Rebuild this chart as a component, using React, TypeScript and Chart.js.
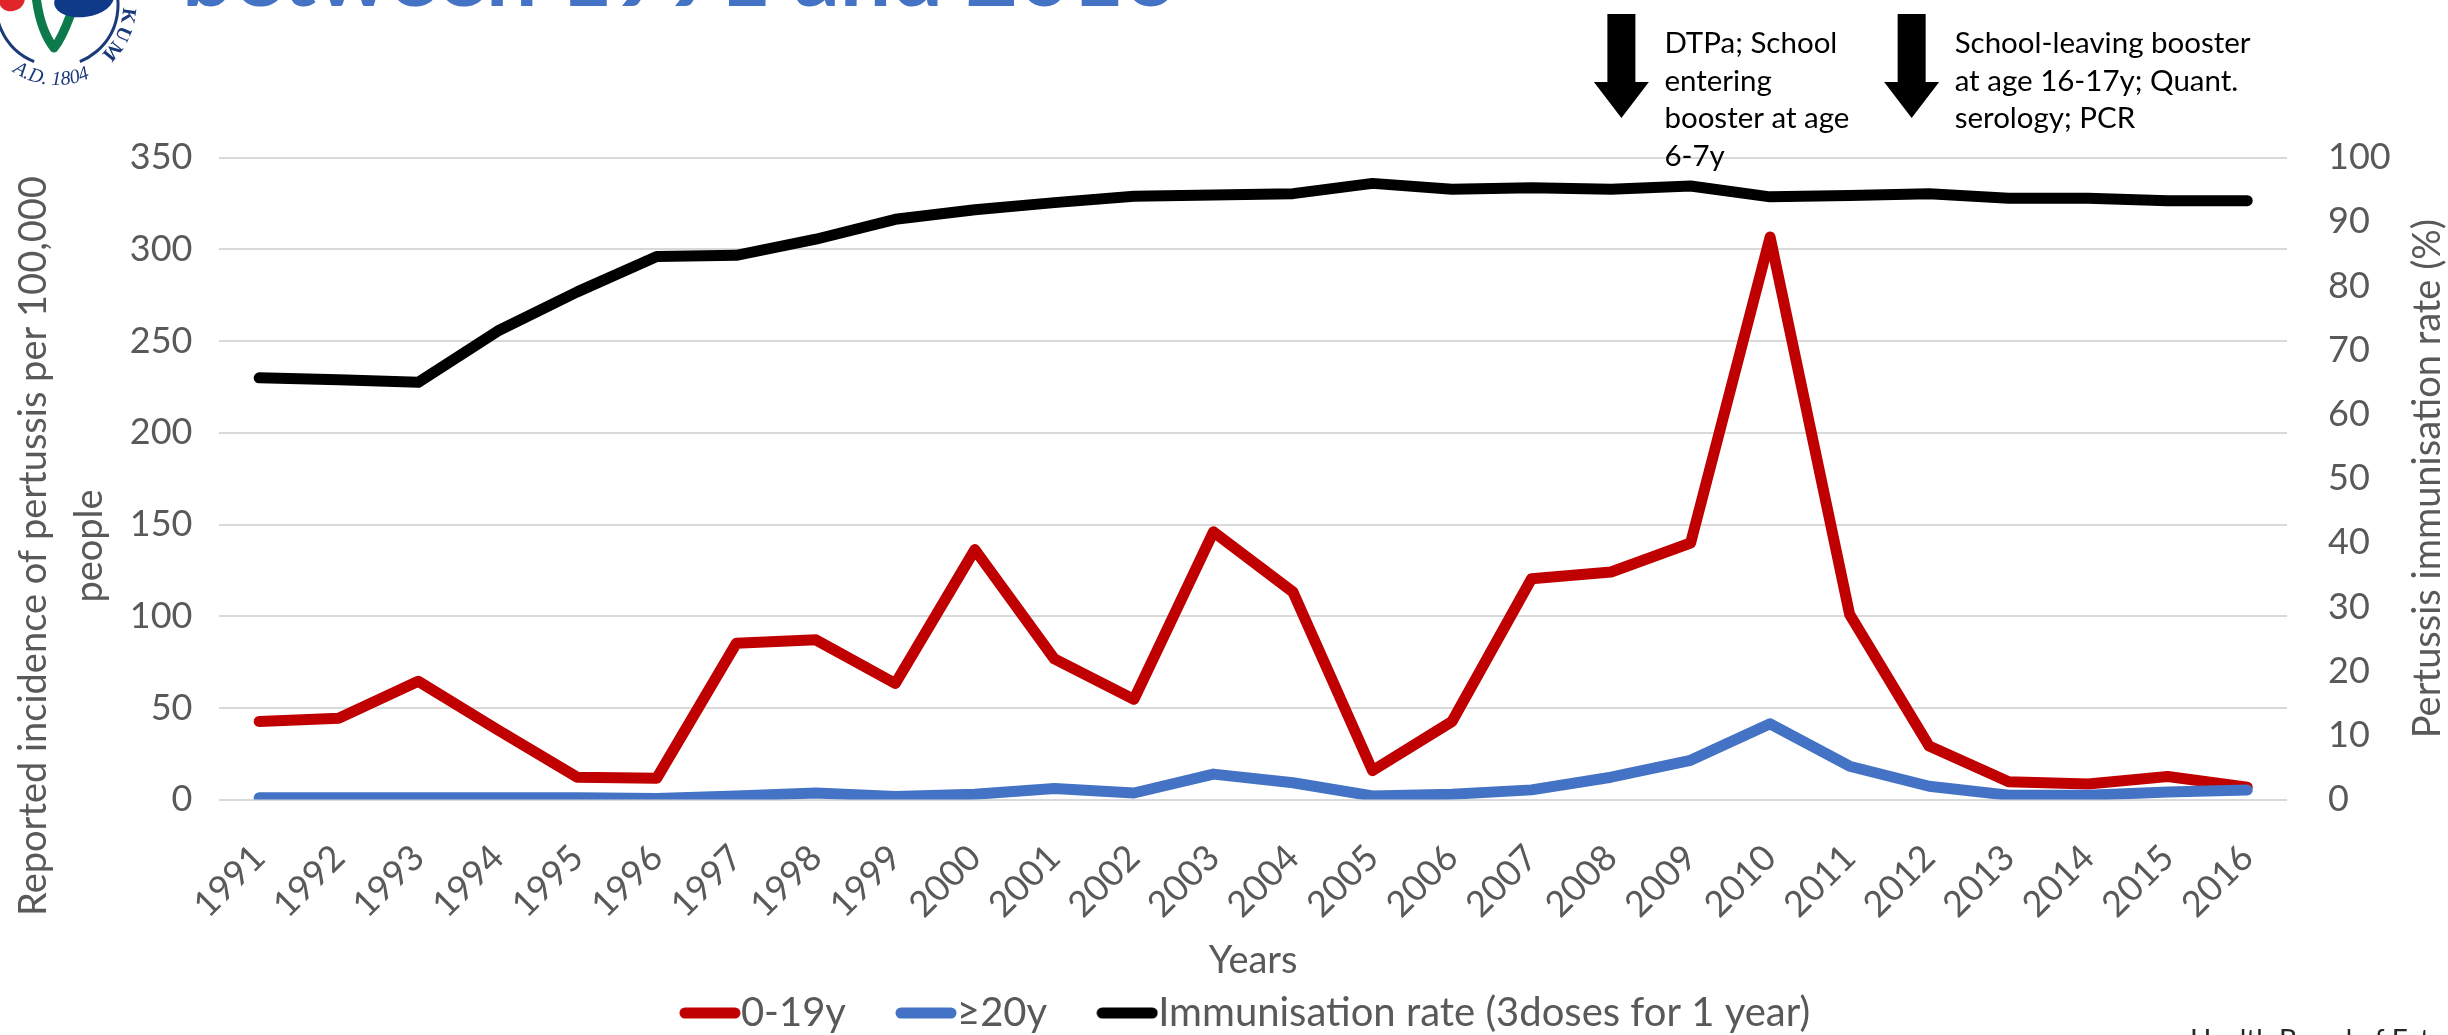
import React, { useEffect, useRef } from "react";
import { Chart, registerables } from "chart.js";

Chart.register(...registerables);

// ---- data -------------------------------------------------------------
const years = [
  "1991", "1992", "1993", "1994", "1995", "1996", "1997", "1998", "1999", "2000",
  "2001", "2002", "2003", "2004", "2005", "2006", "2007", "2008", "2009", "2010",
  "2011", "2012", "2013", "2014", "2015", "2016",
];

// reported incidence per 100,000 people
const incidence0to19 = [
  42.6, 44.3, 64.5, 38.0, 12.2, 11.7, 85.2, 87.1, 63.3, 136.3,
  76.7, 54.7, 146.0, 113.2, 15.8, 42.6, 120.4, 124.1, 139.9, 306.7,
  101.0, 29.2, 9.7, 8.5, 12.6, 6.8,
];
const incidence20plus = [
  1.0, 1.0, 1.0, 1.0, 1.0, 0.6, 2.0, 3.6, 1.7, 2.9,
  6.1, 3.6, 13.9, 9.2, 2.0, 2.9, 5.3, 12.2, 21.4, 41.3,
  18.2, 7.3, 2.4, 2.4, 4.1, 5.3,
];
// immunisation coverage, %
const immunisationRate = [
  65.7, 65.4, 65.0, 73.0, 79.1, 84.6, 84.8, 87.3, 90.4, 91.9,
  93.0, 94.0, 94.2, 94.4, 96.0, 95.1, 95.3, 95.1, 95.6, 93.9,
  94.1, 94.4, 93.7, 93.7, 93.3, 93.3,
];

const seriesLabels = ["0-19y", "≥20y", "Immunisation rate (3doses for 1 year)"];
const seriesColors = ["#C00000", "#4472C4", "#000000"];

const leftAxisRange = { min: 0, max: 350, step: 50 };
const rightAxisRange = { min: 0, max: 100, step: 10 };

const leftAxisTitle = ["Reported incidence of pertussis per 100,000", "people"];
const rightAxisTitle = "Pertussis immunisation rate (%)";
const xAxisTitle = "Years";
const slideTitle = "between 1991 and 2016";
const sourceNote = "Health Board of Estonia";

// schedule changes marked above the plot (year + fraction of a category step)
const milestones = [
  { year: "2008", shift: 0.13, lines: ["DTPa; School", "entering", "booster at age", "6-7y"] },
  { year: "2012", shift: -0.22, lines: ["School-leaving booster", "at age 16-17y; Quant.", "serology; PCR"] },
];

// ---- layout -----------------------------------------------------------
const FONT = "Lato, 'Open Sans', 'DejaVu Sans', sans-serif";
const GREY = "#595959";
const CANVAS_W = 2448;
const CANVAS_H = 1043;
const PLOT_TOP = 157.7;
const PLOT_BOTTOM = 799.6;
const PLOT_LEFT = 219.4;
const PLOT_RIGHT = 2287;
const PAD_LEFT = 61;
const LINE_W = 11;
const LEGEND_FONT = 40;
const LEGEND_GAP = 69;
const TITLE_FONT = 38;

const deg = (d: number) => (d * Math.PI) / 180;

// rounded line swatch used as the legend marker
function makeSwatch(color: string) {
  const c = document.createElement("canvas");
  c.width = 62;
  c.height = 12;
  const g = c.getContext("2d")!;
  g.strokeStyle = color;
  g.lineWidth = LINE_W;
  g.lineCap = "round";
  g.beginPath();
  g.moveTo(6, 6);
  g.lineTo(56, 6);
  g.stroke();
  return c;
}

function drawLogo(ctx: CanvasRenderingContext2D) {
  const navy = "#1b3a7a";
  ctx.save();
  // outer ring
  ctx.strokeStyle = navy;
  ctx.lineWidth = 3;
  ctx.beginPath();
  ctx.arc(57, 5, 61, deg(112), deg(200));
  ctx.stroke();
  ctx.beginPath();
  ctx.arc(57, 5, 61, deg(-40), deg(68));
  ctx.stroke();
  // red flame
  ctx.fillStyle = "#e0262b";
  ctx.beginPath();
  ctx.ellipse(12, 0, 13, 11, deg(-20), 0, Math.PI * 2);
  ctx.fill();
  // green leaf
  ctx.strokeStyle = "#0c7a4b";
  ctx.lineWidth = 9;
  ctx.lineJoin = "round";
  ctx.lineCap = "round";
  ctx.beginPath();
  ctx.moveTo(36, -4);
  ctx.quadraticCurveTo(40, 30, 54, 48);
  ctx.quadraticCurveTo(62, 38, 70, 16);
  ctx.stroke();
  // navy wing
  ctx.fillStyle = "#0f3a8a";
  ctx.beginPath();
  ctx.ellipse(84, 0, 30, 17, deg(-8), 0, Math.PI * 2);
  ctx.fill();
  // lettering round the seal
  ctx.fillStyle = navy;
  ctx.font = "italic 20px 'Liberation Serif', 'DejaVu Serif', serif";
  ctx.textAlign = "center";
  ctx.textBaseline = "alphabetic";
  const bottomText = "A.D. 1804";
  const r = 80;
  let ang = deg(124);
  for (const ch of bottomText) {
    const w = ctx.measureText(ch).width;
    const a = ang - w / 2 / r;
    ctx.save();
    ctx.translate(57 + r * Math.cos(a), 5 + r * Math.sin(a));
    ctx.rotate(a - Math.PI / 2);
    ctx.fillText(ch, 0, 0);
    ctx.restore();
    ang -= w / r;
  }
  ctx.font = "bold 20px 'Liberation Serif', 'DejaVu Serif', serif";
  const sideText = "KUM";
  const r2 = 66;
  let ang2 = deg(2);
  for (const ch of sideText) {
    const w = ctx.measureText(ch).width;
    const a = ang2 + w / 2 / r2;
    ctx.save();
    ctx.translate(57 + r2 * Math.cos(a), 5 + r2 * Math.sin(a));
    ctx.rotate(a + Math.PI / 2);
    ctx.fillText(ch, 0, 0);
    ctx.restore();
    ang2 += (w + 2) / r2;
  }
  ctx.restore();
}

const decorations = {
  id: "slideDecorations",
  afterDraw(chart: any) {
    const { ctx, scales, chartArea } = chart;
    const xScale = scales.x;
    ctx.save();

    // slide heading (only its lower edge shows)
    ctx.fillStyle = "#4472C4";
    let size = 80;
    ctx.font = `bold ${size}px ${FONT}`;
    size = (size * 995) / ctx.measureText(slideTitle).width;
    ctx.font = `bold ${size}px ${FONT}`;
    ctx.textAlign = "left";
    ctx.textBaseline = "alphabetic";
    ctx.fillText(slideTitle, 182, 6);

    drawLogo(ctx);

    // axis titles
    ctx.fillStyle = GREY;
    ctx.font = `${TITLE_FONT}px ${FONT}`;
    ctx.textAlign = "center";
    ctx.textBaseline = "middle";
    const leftX = [34, 90];
    leftAxisTitle.forEach((line, i) => {
      ctx.save();
      ctx.translate(leftX[i], 546);
      ctx.rotate(-Math.PI / 2);
      ctx.fillText(line, 0, 0);
      ctx.restore();
    });
    ctx.save();
    ctx.translate(2428, (chartArea.top + chartArea.bottom) / 2);
    ctx.rotate(-Math.PI / 2);
    ctx.fillText(rightAxisTitle, 0, 0);
    ctx.restore();

    // milestone arrows with notes
    ctx.fillStyle = "#000";
    ctx.font = `29.5px ${FONT}`;
    ctx.textAlign = "left";
    ctx.textBaseline = "alphabetic";
    milestones.forEach((m) => {
      const cx = xScale.getPixelForValue(years.indexOf(m.year) + m.shift);
      ctx.beginPath();
      ctx.moveTo(cx - 14, 14);
      ctx.lineTo(cx + 14, 14);
      ctx.lineTo(cx + 14, 82);
      ctx.lineTo(cx + 27.5, 82);
      ctx.lineTo(cx, 118);
      ctx.lineTo(cx - 27.5, 82);
      ctx.lineTo(cx - 14, 82);
      ctx.closePath();
      ctx.fill();
      m.lines.forEach((line, i) => {
        ctx.fillText(line, cx + 43, 53 + i * 37.5);
      });
    });

    // source note at the foot of the slide
    ctx.fillStyle = "#262626";
    ctx.font = `28px ${FONT}`;
    ctx.fillText(sourceNote, 2190, 1050);

    ctx.restore();
  },
};

export default function App() {
  const canvasRef = useRef<HTMLCanvasElement | null>(null);

  useEffect(() => {
    const canvas = canvasRef.current;
    if (!canvas) return;
    const tickFont = { family: FONT, size: 36 };
    const swatches = seriesColors.map(makeSwatch);

    const chart = new Chart(canvas, {
      type: "line",
      data: {
        labels: years,
        datasets: [
          {
            label: seriesLabels[0],
            data: incidence0to19,
            yAxisID: "y",
            borderColor: seriesColors[0],
            backgroundColor: seriesColors[0],
            order: 2,
          },
          {
            label: seriesLabels[1],
            data: incidence20plus,
            yAxisID: "y",
            borderColor: seriesColors[1],
            backgroundColor: seriesColors[1],
            order: 1,
          },
          {
            label: seriesLabels[2],
            data: immunisationRate,
            yAxisID: "y1",
            borderColor: seriesColors[2],
            backgroundColor: seriesColors[2],
            order: 3,
          },
        ],
      },
      options: {
        responsive: false,
        animation: false,
        devicePixelRatio: 1,
        elements: {
          line: {
            borderWidth: LINE_W,
            tension: 0,
            borderJoinStyle: "round",
            borderCapStyle: "round",
            fill: false,
          },
          point: { radius: 0, hoverRadius: 0 },
        },
        layout: { padding: { top: PLOT_TOP, left: PAD_LEFT, right: 0, bottom: 0 } },
        plugins: {
          tooltip: { enabled: false },
          legend: {
            position: "bottom",
            labels: {
              color: GREY,
              font: { family: FONT, size: LEGEND_FONT },
              usePointStyle: true,
              pointStyleWidth: 22,
              padding: LEGEND_GAP,
              sort: (a: any, b: any) => a.datasetIndex - b.datasetIndex,
              generateLabels: (c: any) =>
                Chart.defaults.plugins.legend.labels
                  .generateLabels(c)
                  .map((item: any) => ({
                    ...item,
                    pointStyle: swatches[item.datasetIndex],
                    lineWidth: 0,
                  })),
            },
          },
        },
        scales: {
          x: {
            type: "category",
            offset: true,
            grid: { display: false, drawTicks: false },
            border: { display: false },
            ticks: {
              autoSkip: false,
              minRotation: 45,
              maxRotation: 45,
              padding: 37,
              color: GREY,
              font: tickFont,
            },
            title: {
              display: true,
              text: xAxisTitle,
              color: GREY,
              font: { family: FONT, size: TITLE_FONT },
              padding: { top: 0, bottom: -60 },
            },
            afterFit: (s: any) => {
              const legendH = s.chart.legend ? s.chart.legend.height : 119;
              s.height = CANVAS_H - legendH - PLOT_BOTTOM;
            },
          },
          y: {
            position: "left",
            min: leftAxisRange.min,
            max: leftAxisRange.max,
            ticks: { stepSize: leftAxisRange.step, padding: 27, color: GREY, font: tickFont },
            grid: { color: "#D9D9D9", lineWidth: 2, drawTicks: false },
            border: { display: false },
            afterFit: (s: any) => {
              s.width = PLOT_LEFT - PAD_LEFT;
            },
          },
          y1: {
            position: "right",
            min: rightAxisRange.min,
            max: rightAxisRange.max,
            ticks: { stepSize: rightAxisRange.step, padding: 41, color: GREY, font: tickFont },
            grid: { display: false, drawTicks: false },
            border: { display: false },
            afterFit: (s: any) => {
              s.width = CANVAS_W - PLOT_RIGHT;
            },
          },
        },
      },
      plugins: [decorations],
    } as any);

    return () => chart.destroy();
  }, []);

  return (
    <div
      style={{
        position: "fixed",
        left: 0,
        top: 0,
        width: 2448,
        height: 1035,
        overflow: "hidden",
        background: "#fff",
      }}
    >
      <canvas
        ref={canvasRef}
        width={CANVAS_W}
        height={CANVAS_H}
        style={{ width: CANVAS_W, height: CANVAS_H, display: "block" }}
      />
    </div>
  );
}
